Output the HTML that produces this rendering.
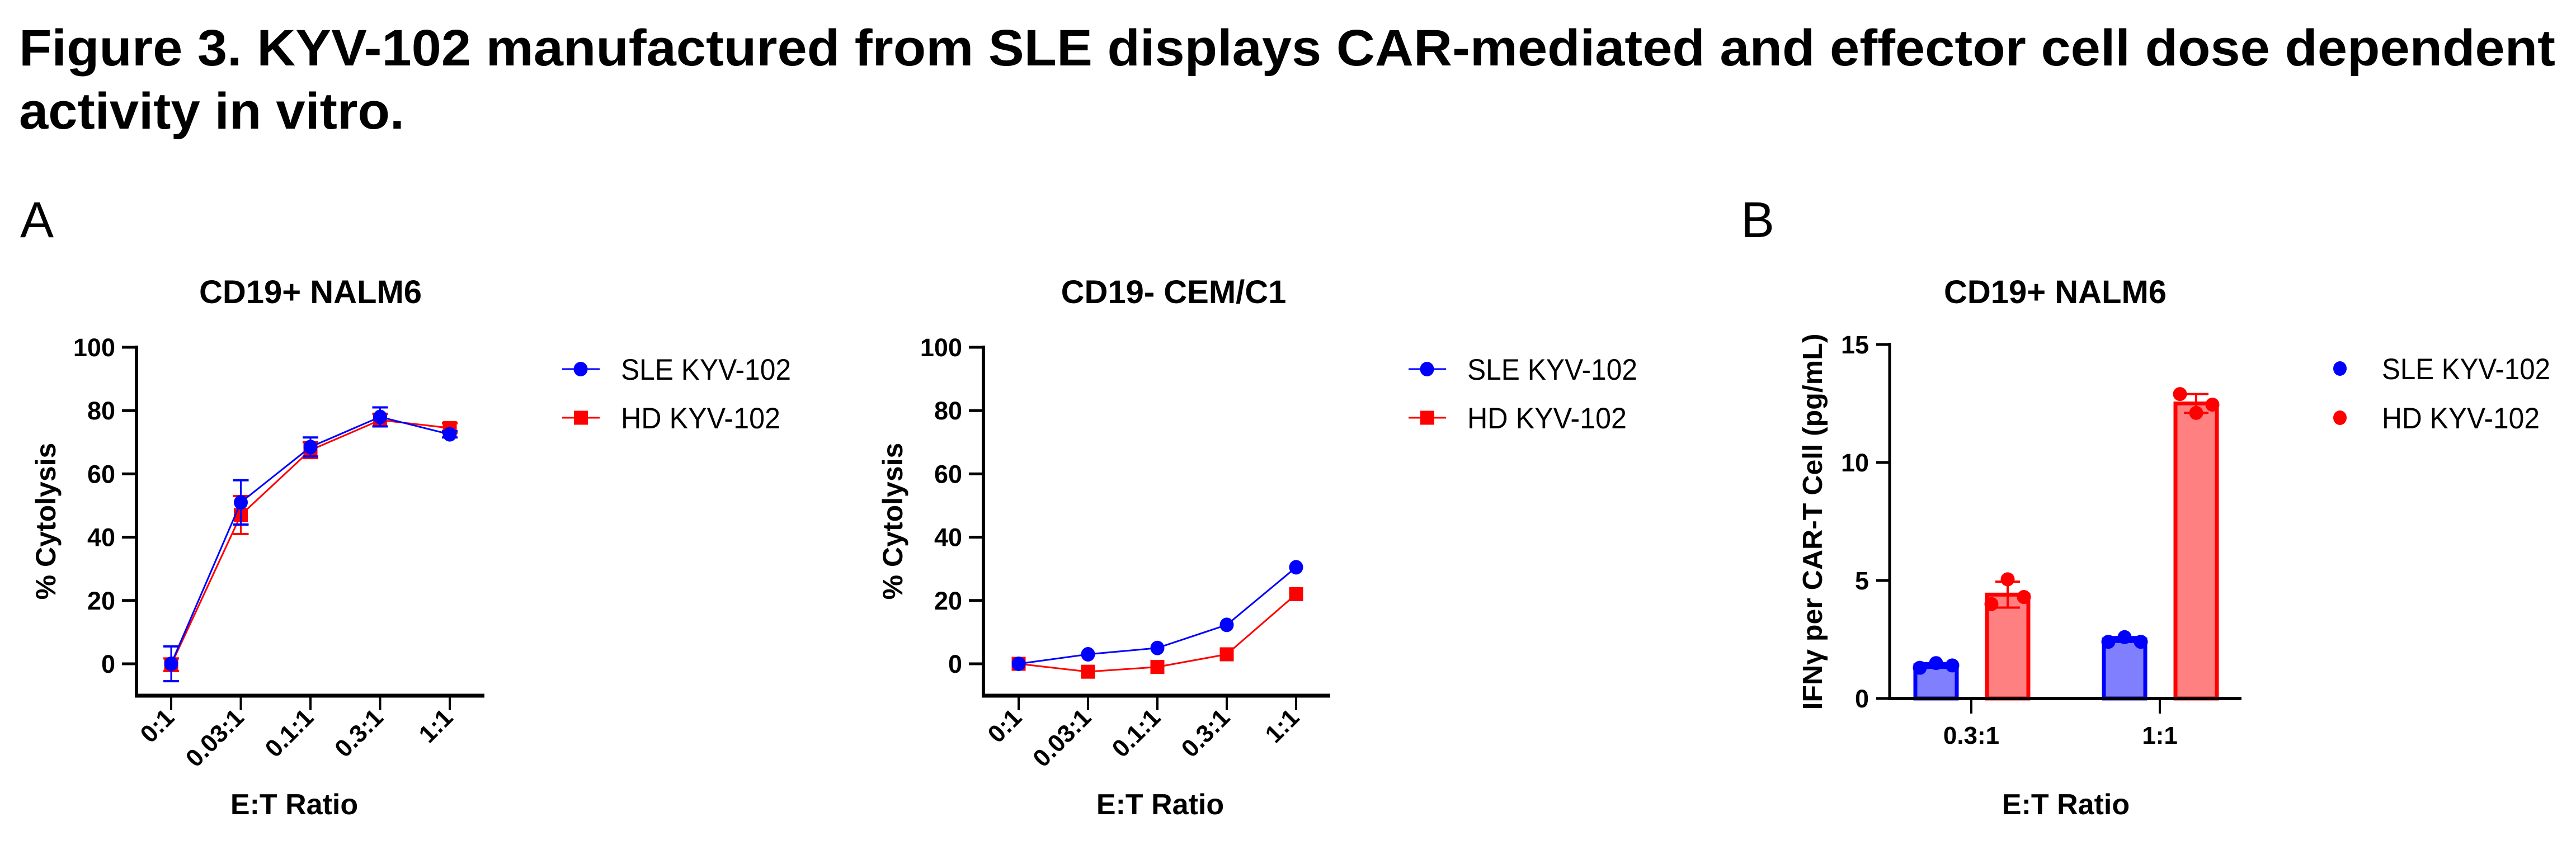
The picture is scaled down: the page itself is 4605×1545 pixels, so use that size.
<!DOCTYPE html>
<html><head><meta charset="utf-8"><style>
html,body{margin:0;padding:0;background:#fff;}
svg{display:block;}
text{font-family:"Liberation Sans",Arial,sans-serif;}
</style></head><body>
<svg id="fig" width="4605" height="1545" viewBox="0 0 4605 1545" xmlns="http://www.w3.org/2000/svg">
<text x="34" y="117" font-size="92" font-weight="bold" textLength="4534" lengthAdjust="spacingAndGlyphs">Figure 3. KYV-102 manufactured from SLE displays CAR-mediated and effector cell dose dependent</text>
<text x="34" y="230" font-size="92" font-weight="bold" textLength="689" lengthAdjust="spacingAndGlyphs">activity in vitro.</text>
<text x="36" y="424" font-size="90">A</text>
<text x="3112" y="424" font-size="90">B</text>
</svg>
<script>
const NS='http://www.w3.org/2000/svg';
const svg=document.getElementById('fig');
function el(tag,attrs,parent){const e=document.createElementNS(NS,tag);for(const k in attrs)e.setAttribute(k,attrs[k]);(parent||svg).appendChild(e);return e;}

// ---- data ----
const lineCategories=['0:1','0.03:1','0.1:1','0.3:1','1:1'];
const yTicksCyto=[0,20,40,60,80,100];
const nalmSLE=[0,51,68.5,78,72.5];
const nalmSLEerr=[5.5,7,3,3,1];
const nalmHD=[-0.3,47,67.5,77,74.5];
const nalmHDerr=[2,6,2.5,2,1.5];
const cemSLE=[0,3,5,12.3,30.5];
const cemHD=[0,-2.5,-1,3,22];
const barCategories=['0.3:1','1:1'];
const yTicksIfn=[0,5,10,15];
const ifnSLEmean=[1.4,2.5];
const ifnHDmean=[4.4,12.5];
const ifnSLEpts=[[1.3,1.5,1.4],[2.4,2.6,2.4]];
const ifnHDpts=[[4.0,5.05,4.3],[12.9,12.1,12.45]];
const ifnSLEsd=[0.1,0.1];
const ifnHDsd=[0.55,0.4];

const BLUE='#0000ff',RED='#ff0000';

function lineChart(cfg){
  const g=el('g',{});
  
  
  const ax=cfg.ax, x0=cfg.x0, step=cfg.step;
  const y=v=>1187-v*5.66;
  const x=i=>x0+i*step;
  const t=el('text',{x:cfg.titleX,y:542,'font-size':58,'font-weight':'bold','text-anchor':'middle'},g);t.textContent=cfg.title;
  
  
  const ya=el('line',{x1:ax,y1:618,x2:ax,y2:1247,stroke:'#000','stroke-width':6},g);
  
  
  const xa=el('line',{x1:ax-3,y1:1244,x2:cfg.axEnd,y2:1244,stroke:'#000','stroke-width':7},g);
  
  
  yTicksCyto.forEach(v=>{
    el('line',{x1:ax-26,y1:y(v),x2:ax,y2:y(v),stroke:'#000','stroke-width':5},g);
    const l=el('text',{x:ax-38,y:y(v)+16,'font-size':45,'font-weight':'bold','text-anchor':'end'},g);l.textContent=v;
    
    
  });
  lineCategories.forEach((c,i)=>{
    el('line',{x1:x(i),y1:1244,x2:x(i),y2:1270,stroke:'#000','stroke-width':4},g);
    const l=el('text',{x:x(i)+8,y:1286,'font-size':44,'font-weight':'bold','text-anchor':'end',transform:`rotate(-45 ${x(i)+8} 1286)`},g);l.textContent=c;
    
    
  });
  const yt=el('text',{x:0,y:0,'font-size':50,'font-weight':'bold','text-anchor':'middle',transform:`translate(${cfg.yTitleX} 932) rotate(-90)`},g);yt.textContent='% Cytolysis';
  
  
  const xt=el('text',{x:cfg.xTitleX,y:1456,'font-size':52,'font-weight':'bold','text-anchor':'middle'},g);xt.textContent='E:T Ratio';
  
  
  const series=[{v:cfg.hd,e:cfg.hdErr,c:RED,sq:true,n:'hd'},{v:cfg.sle,e:cfg.sleErr,c:BLUE,sq:false,n:'sle'}];
  series.forEach(s=>{
    const p=el('polyline',{points:s.v.map((v,i)=>x(i)+','+y(v)).join(' '),fill:'none',stroke:s.c,'stroke-width':3},g);
    
    
    s.v.forEach((v,i)=>{
      if(s.e){const e=s.e[i];
        el('line',{x1:x(i),y1:y(v+e),x2:x(i),y2:y(v-e),stroke:s.c,'stroke-width':3},g);
        el('line',{x1:x(i)-14,y1:y(v+e),x2:x(i)+14,y2:y(v+e),stroke:s.c,'stroke-width':4},g);
        el('line',{x1:x(i)-14,y1:y(v-e),x2:x(i)+14,y2:y(v-e),stroke:s.c,'stroke-width':4},g);}
      let m;
      if(s.sq) m=el('rect',{x:x(i)-12.5,y:y(v)-12.5,width:25,height:25,fill:s.c},g);
      else m=el('ellipse',{cx:x(i),cy:y(v),rx:12.5,ry:13,fill:s.c},g);
      
      
    });
  });
  [['SLE KYV-102',BLUE,false,660],['HD KYV-102',RED,true,747]].forEach(L=>{
    const lg=el('g',{},g);
    
    
    el('line',{x1:cfg.legX,y1:L[3],x2:cfg.legX+67,y2:L[3],stroke:L[1],'stroke-width':3},lg);
    if(L[2]) el('rect',{x:cfg.legX+21,y:L[3]-12.5,width:25,height:25,fill:L[1]},lg);
    else el('ellipse',{cx:cfg.legX+33,cy:L[3],rx:12.5,ry:13,fill:L[1]},lg);
    const tt=el('text',{x:cfg.legX+105,y:L[3]+19,'font-size':53,textLength:L[0]==='SLE KYV-102'?304:285,lengthAdjust:'spacingAndGlyphs'},lg);tt.textContent=L[0];
  });
}

lineChart({name:'chart-nalm6-cytolysis',title:'CD19+ NALM6',titleX:555,ax:244,axEnd:866,x0:306,step:124.5,yTitleX:99,xTitleX:526,legX:1005,sle:nalmSLE,sleErr:nalmSLEerr,hd:nalmHD,hdErr:nalmHDerr});
lineChart({name:'chart-cem-cytolysis',title:'CD19- CEM/C1',titleX:2098,ax:1758,axEnd:2378,x0:1821,step:124,yTitleX:1613,xTitleX:2074,legX:2518,sle:cemSLE,sleErr:null,hd:cemHD,hdErr:null});

(function(){
  const g=el('g',{});
  
  
  const ax=3378, y=v=>1249-v*42.2;
  const cx=[3524,3861];
  const t=el('text',{x:3674,y:542,'font-size':58,'font-weight':'bold','text-anchor':'middle'},g);t.textContent='CD19+ NALM6';
  
  
  const ya=el('line',{x1:ax,y1:613,x2:ax,y2:1252,stroke:'#000','stroke-width':5},g);
  
  
  yTicksIfn.forEach(v=>{
    el('line',{x1:ax-24,y1:y(v),x2:ax,y2:y(v),stroke:'#000','stroke-width':5},g);
    const l=el('text',{x:3341,y:y(v)+16,'font-size':45,'font-weight':'bold','text-anchor':'end'},g);l.textContent=v;
    
    
  });
  const yt=el('text',{x:0,y:0,'font-size':49,'font-weight':'bold','text-anchor':'middle',textLength:673,lengthAdjust:'spacingAndGlyphs',transform:`translate(3257 933) rotate(-90)`},g);yt.textContent='IFNγ per CAR-T Cell (pg/mL)';
  
  
  barCategories.forEach((c,i)=>{
    [[ifnSLEmean,ifnSLEpts,ifnSLEsd,BLUE,'#8080ff',-63,'sle'],[ifnHDmean,ifnHDpts,ifnHDsd,RED,'#ff8080',65,'hd']].forEach(S=>{
      const m=S[0][i], bx=cx[i]+S[5];
      const b=el('rect',{x:bx-37,y:y(m),width:74,height:1249-y(m),fill:S[4],stroke:S[3],'stroke-width':7},g);
      
      
      const sd=S[2][i];
      el('line',{x1:bx,y1:y(m+sd),x2:bx,y2:y(m-sd),stroke:S[3],'stroke-width':4},g);
      el('line',{x1:bx-22,y1:y(m+sd),x2:bx+22,y2:y(m+sd),stroke:S[3],'stroke-width':4},g);
      el('line',{x1:bx-22,y1:y(m-sd),x2:bx+22,y2:y(m-sd),stroke:S[3],'stroke-width':4},g);
      S[1][i].forEach((p,j)=>{
        const d=el('circle',{cx:bx-29+j*29,cy:y(p),r:12.5,fill:S[3]},g);
        
        
      });
    });
    el('line',{x1:cx[i],y1:1249,x2:cx[i],y2:1276,stroke:'#000','stroke-width':4},g);
    const l=el('text',{x:cx[i],y:1330,'font-size':44,'font-weight':'bold','text-anchor':'middle'},g);l.textContent=c;
    
    
  });
  const xa=el('line',{x1:ax-3,y1:1249,x2:4007,y2:1249,stroke:'#000','stroke-width':6},g);
  
  
  const xt=el('text',{x:3693,y:1456,'font-size':52,'font-weight':'bold','text-anchor':'middle'},g);xt.textContent='E:T Ratio';
  
  
  [['SLE KYV-102',BLUE,659,301],['HD KYV-102',RED,747,282]].forEach(L=>{
    const lg=el('g',{},g);
    
    
    el('ellipse',{cx:4183,cy:L[2],rx:12,ry:13,fill:L[1]},lg);
    const tt=el('text',{x:4258,y:L[2]+19,'font-size':53,textLength:L[3],lengthAdjust:'spacingAndGlyphs'},lg);tt.textContent=L[0];
  });
})();
</script>
</body></html>
